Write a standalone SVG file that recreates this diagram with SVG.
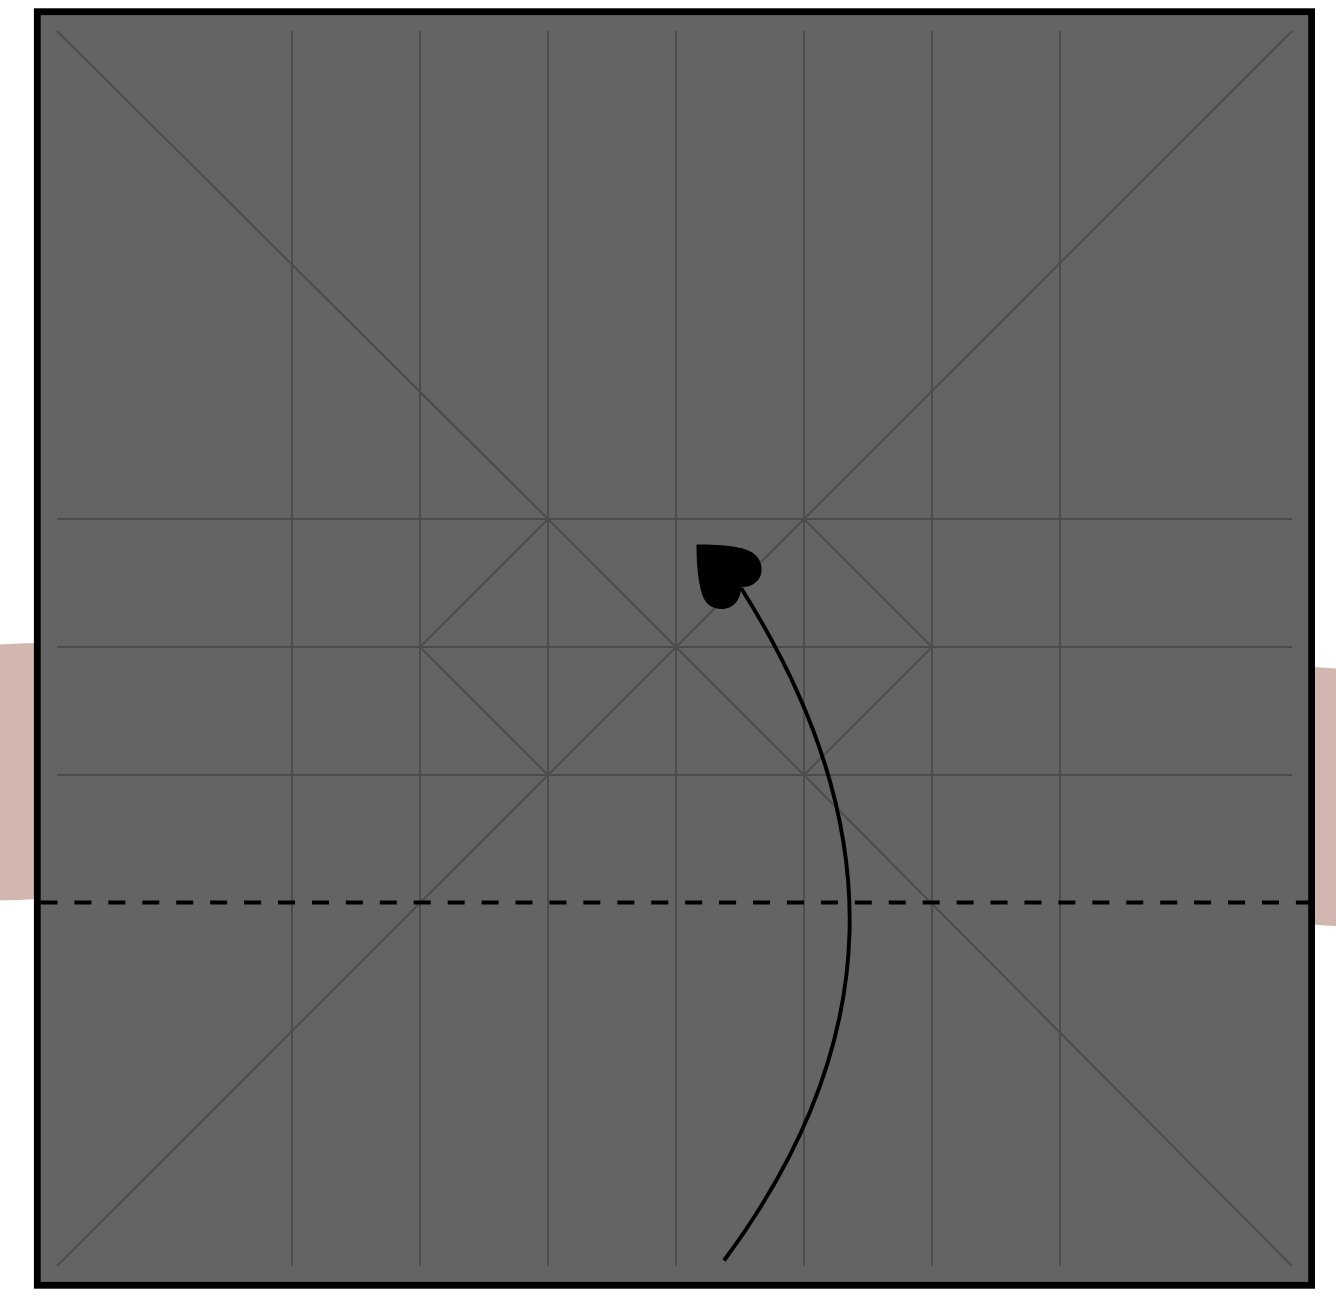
<svg xmlns="http://www.w3.org/2000/svg" width="1336" height="1297" viewBox="0 0 1336 1297">
<style>
.band{fill:#d2b6b0;stroke:none}
.grid{fill:none;stroke:#4c4c4c;stroke-width:2}
.curve{fill:none;stroke:#000;stroke-width:3.9}
.fold{fill:none;stroke:#000;stroke-width:3.8;stroke-dasharray:17 16.930}
</style>
<rect width="1336" height="1297" fill="#fff"/>
<g id="band-left"><path class="band" d="M0 644.500Q18 643 36 643L36 899Q18 900 0 900.500Z"/></g>
<g id="band-right"><path class="band" d="M1313 667Q1325 667.500 1336 668.500L1336 926Q1325 925.500 1313 924.500Z"/></g>
<g id="sheet"><rect x="37.300" y="11.700" width="1274.300" height="1273.600" fill="#646464"/></g>
<g id="connectors">
<path class="grid" d="M292 31V1266M420 31V1266M548 31V1266M676 31V1266M804 31V1266M932 31V1266M1060 31V1266M57 519H1292M57 647H1292M57 775H1292"/>
<path class="grid" d="M57 31L548 519L804 775L1292 1266M1292 31L804 519L548 775L57 1266M420 647L548 519M420 647L548 775M804 519L932 647L804 775"/>
<path class="fold" d="M40.500 902.500H1310"/>
<path class="curve" d="M724 1260.500C884 1045 893 828 741 588"/>
</g>
<g id="arrowhead"><path d="M696.500 544.500C725 544.500 745 547 753 553C760 558 762 565 761.500 571C761 581 751 588 741 587C741 600 733 609 722 609C712 609 705 604 702 594C698 580 696.500 565 696.500 544.500Z" fill="#000"/></g>
<g id="frame"><rect x="37.300" y="11.700" width="1274.300" height="1273.600" fill="none" stroke="#000" stroke-width="6.800"/></g>
</svg>
